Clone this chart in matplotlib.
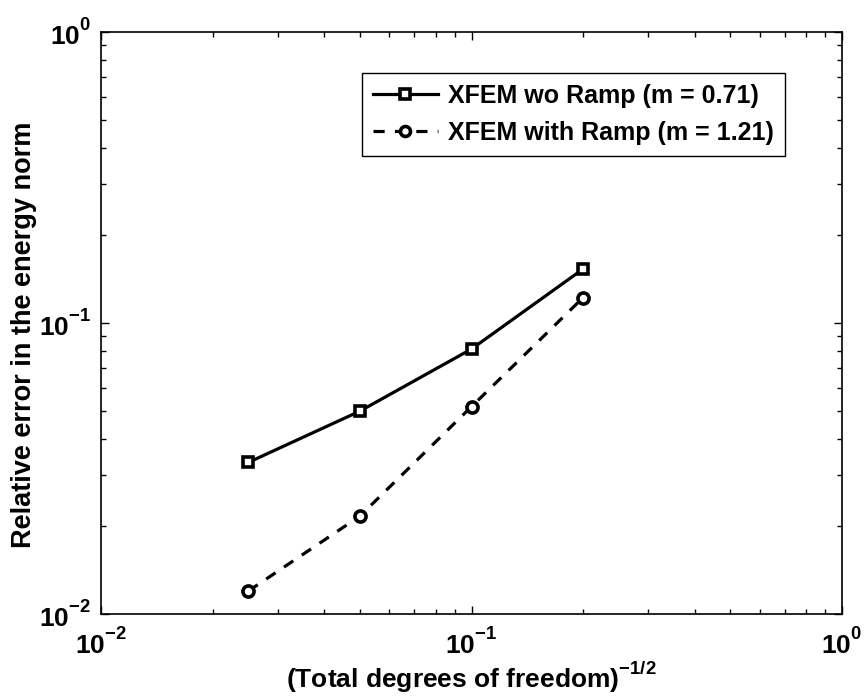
import matplotlib
matplotlib.use("Agg")
import matplotlib.pyplot as plt
from matplotlib import _mathtext

plt.rcParams['font.family'] = ['Liberation Sans', 'DejaVu Sans']
plt.rcParams['font.weight'] = 'bold'
plt.rcParams['mathtext.fontset'] = 'custom'
plt.rcParams['mathtext.default'] = 'bf'
plt.rcParams['mathtext.bf'] = 'Liberation Sans:bold'
plt.rcParams['mathtext.rm'] = 'Liberation Sans:bold'
# raise exponents a bit, matlab style
_mathtext.FontConstantsBase.sup1 = 0.95

# data
dof = [0.025, 0.05, 0.1, 0.2]
err_wo_ramp = [0.0332, 0.0498, 0.0814, 0.1533]
err_with_ramp = [0.0120, 0.0217, 0.0516, 0.1222]
labels = ['XFEM wo Ramp (m = 0.71)', 'XFEM with Ramp (m = 1.21)']

fig = plt.figure(figsize=(8.64, 6.98), dpi=100)
ax = fig.add_axes([101 / 864, 1 - 614 / 698, 741 / 864, 582 / 698])

ax.loglog(dof, err_wo_ramp, '-', color='k', lw=2.3, marker='s', ms=7.5,
          mfc='white', mec='k', mew=2.6, label=labels[0])
ax.loglog(dof, err_with_ramp, '--', color='k', lw=2.3, marker='o', ms=8,
          mfc='white', mec='k', mew=2.6, dashes=(3.5, 3.2), label=labels[1])

ax.set_xlim(1e-2, 1e0)
ax.set_ylim(1e-2, 1e0)

ax.tick_params(which='both', direction='in', top=True, right=True, width=1)
ax.tick_params(which='major', length=6, labelsize=19)
ax.tick_params(axis='x', which='major', pad=10)
ax.tick_params(axis='y', which='major', pad=7)
ax.tick_params(which='minor', length=3.5)
for s in ax.spines.values():
    s.set_linewidth(1.2)

ax.set_xlabel(r'(Total degrees of freedom)$^{\mathbf{-1/2}}$', fontsize=19,
              fontweight='bold')
ax.xaxis.set_label_coords(0.5, -0.078)
ax.set_ylabel('Relative error in the energy norm', fontsize=19.5,
              fontweight='bold')
ax.yaxis.set_label_coords(-0.087, 0.479)

leg = ax.legend(loc='upper right', bbox_to_anchor=(0.923, 0.9296), borderaxespad=0,
                fancybox=False, framealpha=1, edgecolor='k',
                handlelength=2.6, handletextpad=0.4, borderpad=0.45,
                labelspacing=0.5, markerscale=0.9,
                prop={'weight': 'bold', 'size': 18})
leg.get_frame().set_linewidth(1.0)

plt.savefig("out.png", dpi=100)
